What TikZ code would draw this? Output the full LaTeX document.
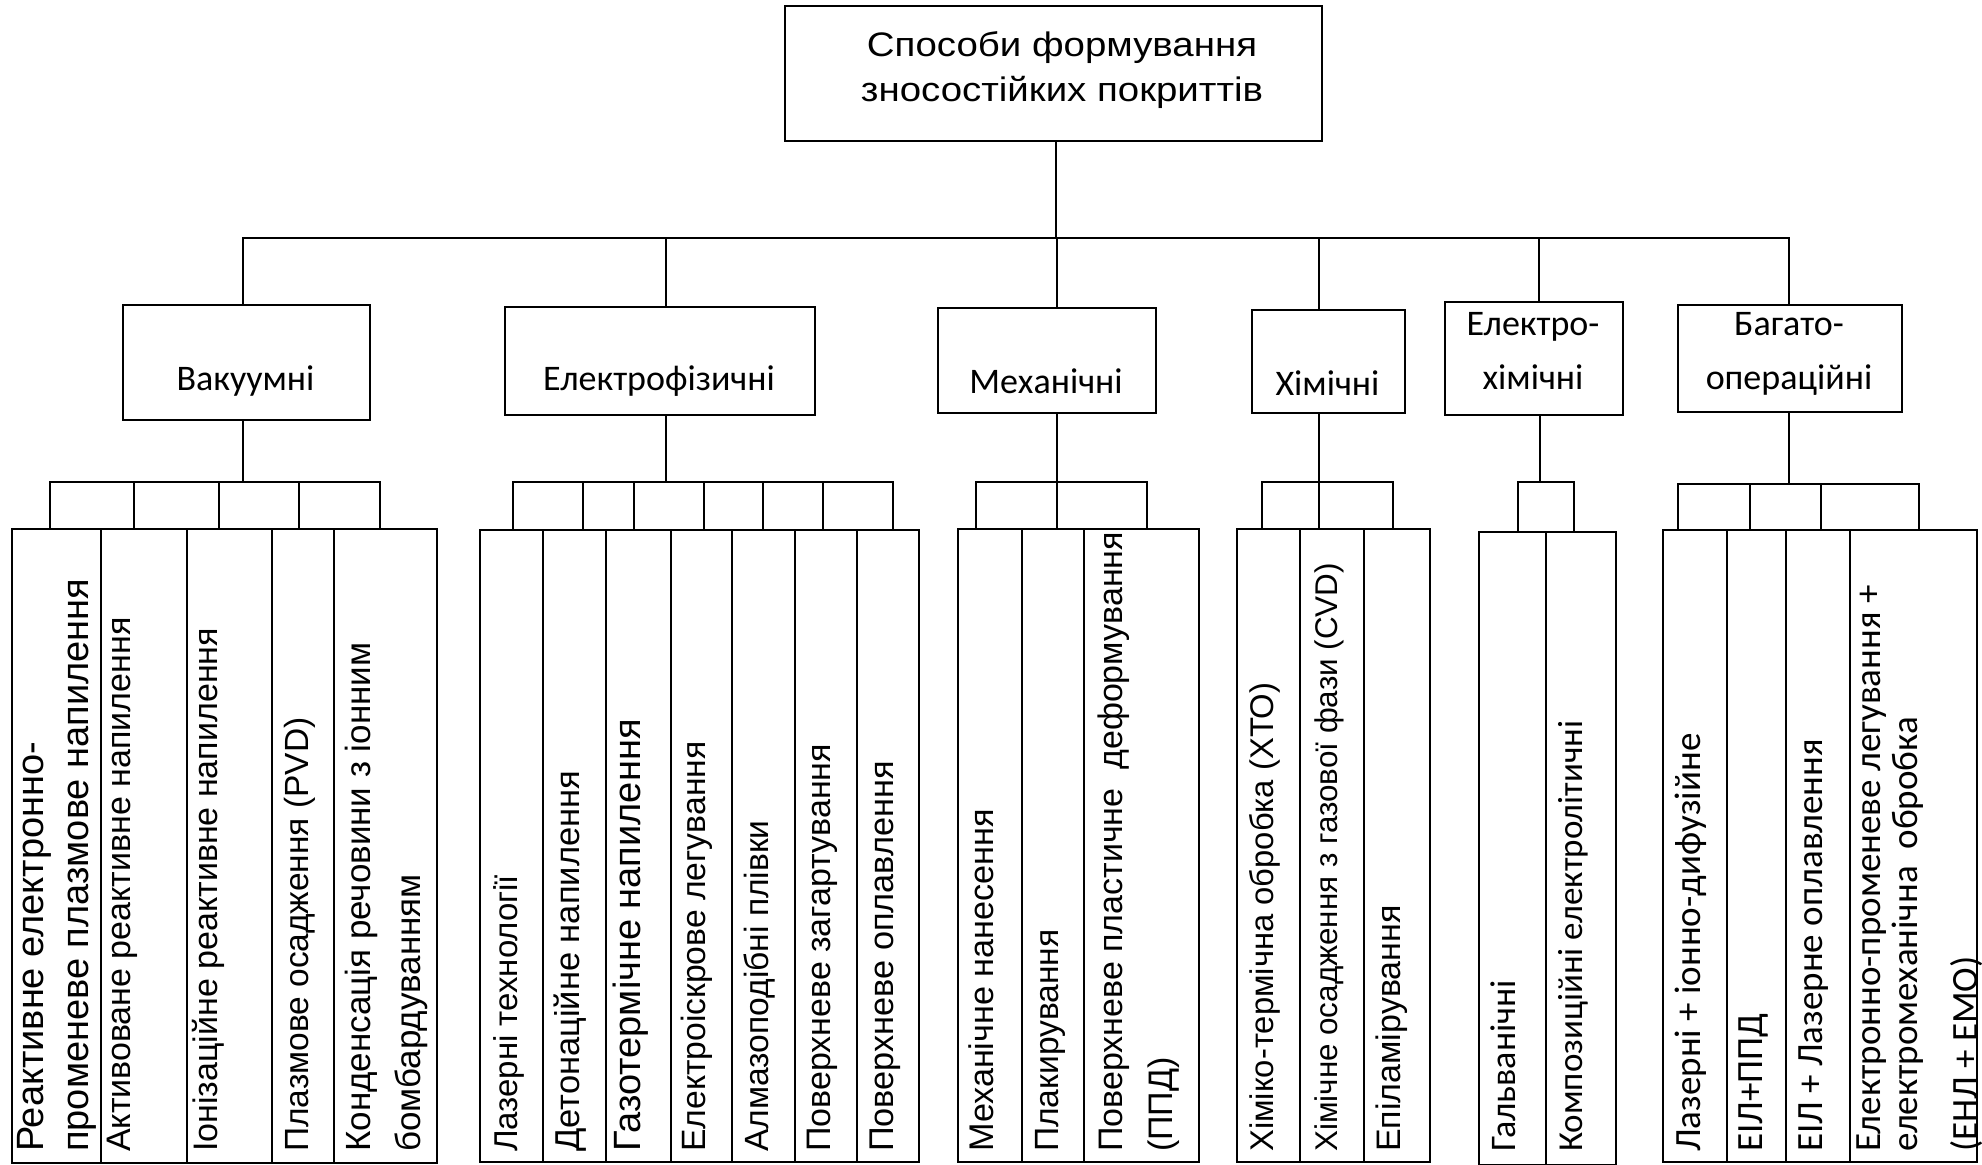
\documentclass[tikz,border=0pt]{standalone}
\usepackage{fontspec}
\setmainfont{Liberation Sans}
\newfontfamily\calfont{Carlito}
\newfontfamily\ttlfont[FakeStretch=1.13]{Liberation Sans}
\newcommand\fsz[2]{\fontsize{#1}{#2}\selectfont}
\newcommand\leaflines[1]{\begin{tabular}[t]{@{}l@{}}#1\end{tabular}}
\newcommand\ctrlines[1]{\begin{tabular}[t]{@{}c@{}}#1\end{tabular}}
\begin{document}
\begin{tikzpicture}[x=1pt,y=-1pt,
  box/.style={draw, line width=2pt, inner sep=0pt, anchor=north west},
  lt/.style={rotate=90, anchor=base west, inner sep=0pt},
  ct/.style={anchor=base, inner sep=0pt, font=\calfont\fsz{36}{54}},
  conn/.style={line width=2pt, line cap=rect}]
\fill[white] (0,0) rectangle (1982,1165);
\useasboundingbox (0,0) rectangle (1982,1165);

% root
\node[box, minimum width=537pt, minimum height=135pt] (root) at (784,5) {};
\node[anchor=base, inner sep=0pt, font=\ttlfont\fsz{34}{45}] (roott) at (1062,56)
  {\ctrlines{Способи формування\\зносостійких покриттів}};

% categories
\node[box, minimum width=247pt, minimum height=115pt] (vak) at (122,304) {};
\node[ct] (vakt) at (245.5,390) {Вакуумні};
\node[box, minimum width=310pt, minimum height=108pt] (elf) at (504,306) {};
\node[ct] (elft) at (659,390) {Електрофізичні};
\node[box, minimum width=218pt, minimum height=105pt] (mech) at (937,307) {};
\node[ct] (mecht) at (1046,393) {Механічні};
\node[box, minimum width=153pt, minimum height=103pt] (chem) at (1251,309) {};
\node[ct] (chemt) at (1327.5,395) {Хімічні};
\node[box, minimum width=178pt, minimum height=113pt] (ech) at (1444,301) {};
\node[ct] (echt) at (1533,335) {\ctrlines{Електро-\\хімічні}};
\node[box, minimum width=224pt, minimum height=107pt] (multi) at (1677,304) {};
\node[ct] (multit) at (1789,335) {\ctrlines{Багато-\\операційні}};

% leaves: vacuum
\node[box, minimum width=89pt, minimum height=634pt] (v1) at (11,528) {};
\node[box, minimum width=86pt, minimum height=634pt] (v2) at (100,528) {};
\node[box, minimum width=85pt, minimum height=634pt] (v3) at (186,528) {};
\node[box, minimum width=62pt, minimum height=634pt] (v4) at (271,528) {};
\node[box, minimum width=103pt, minimum height=634pt] (v5) at (333,528) {};
\node[lt, font=\fsz{38}{45}] (v1t) at (43,1152) {\leaflines{Реактивне електронно-\\променеве плазмове напилення}};
\node[lt, font=\fsz{34}{45}] (v2t) at (130,1152) {Активоване реактивне напилення};
\node[lt, font=\fsz{34}{45}] (v3t) at (217,1152) {Іонізаційне реактивне напилення};
\node[lt, font=\fsz{33.5}{45}] (v4t) at (308,1152) {Плазмове осадження (PVD)};
\node[lt, font=\fsz{35}{50}] (v5t) at (370,1152) {\leaflines{Конденсація речовини з іонним\\бомбардуванням}};

% leaves: electrophysical
\node[box, minimum width=63pt, minimum height=632pt] (e1) at (479,529) {};
\node[box, minimum width=63pt, minimum height=632pt] (e2) at (542,529) {};
\node[box, minimum width=65pt, minimum height=632pt] (e3) at (605,529) {};
\node[box, minimum width=61pt, minimum height=632pt] (e4) at (670,529) {};
\node[box, minimum width=63pt, minimum height=632pt] (e5) at (731,529) {};
\node[box, minimum width=62pt, minimum height=632pt] (e6) at (794,529) {};
\node[box, minimum width=62pt, minimum height=632pt] (e7) at (856,529) {};
\node[lt, font=\fsz{33}{45}] (e1t) at (517,1152) {Лазерні технології};
\node[lt, font=\fsz{34.5}{45}] (e2t) at (579,1152) {Детонаційне напилення};
\node[lt, font=\fsz{38}{45}] (e3t) at (640,1152) {Газотермічне напилення};
\node[lt, font=\fsz{33.7}{45}] (e4t) at (705,1152) {Електроіскрове легування};
\node[lt, font=\fsz{33.6}{45}] (e5t) at (768,1152) {Алмазоподібні плівки};
\node[lt, font=\fsz{34}{45}] (e6t) at (830,1152) {Поверхневе загартування};
\node[lt, font=\fsz{34.3}{45}] (e7t) at (893,1152) {Поверхневе оплавлення};

% leaves: mechanical
\node[box, minimum width=64pt, minimum height=633pt] (m1) at (957,528) {};
\node[box, minimum width=62pt, minimum height=633pt] (m2) at (1021,528) {};
\node[box, minimum width=115pt, minimum height=633pt] (m3) at (1083,528) {};
\node[lt, font=\fsz{34.2}{45}] (m1t) at (993,1152) {Механічне нанесення};
\node[lt, font=\fsz{33.6}{45}] (m2t) at (1058,1152) {Плакирування};
\node[lt, font=\fsz{34}{50}] (m3t) at (1122,1152) {\leaflines{Поверхневе пластичне\ \ деформування\\(ППД)}};

% leaves: chemical
\node[box, minimum width=63pt, minimum height=633pt] (c1) at (1236,528) {};
\node[box, minimum width=64pt, minimum height=633pt] (c2) at (1299,528) {};
\node[box, minimum width=66pt, minimum height=633pt] (c3) at (1363,528) {};
\node[lt, font=\fsz{32.8}{45}] (c1t) at (1273,1152) {Хіміко-термічна обробка (ХТО)};
\node[lt, font=\fsz{31.4}{45}] (c2t) at (1337,1152) {Хімічне осадження з газової фази (CVD)};
\node[lt, font=\fsz{34}{45}] (c3t) at (1400,1152) {Епіламірування};

% leaves: electrochemical
\node[box, minimum width=67pt, minimum height=633pt] (ec1) at (1478,531) {};
\node[box, minimum width=70pt, minimum height=633pt] (ec2) at (1545,531) {};
\node[lt, font=\calfont\fsz{36}{45}] (ec1t) at (1515,1152) {Гальванічні};
\node[lt, font=\calfont\fsz{35}{45}] (ec2t) at (1582,1152) {Композиційні електролітичні};

% leaves: multi-operation
\node[box, minimum width=64pt, minimum height=632pt] (b1) at (1662,529) {};
\node[box, minimum width=59pt, minimum height=632pt] (b2) at (1726,529) {};
\node[box, minimum width=64pt, minimum height=632pt] (b3) at (1785,529) {};
\node[box, minimum width=127pt, minimum height=632pt] (b4) at (1849,529) {};
\node[lt, font=\calfont\fsz{37}{45}] (b1t) at (1700,1152) {Лазерні + іонно-дифузійне};
\node[lt, font=\calfont\fsz{37}{45}] (b2t) at (1762,1152) {ЕІЛ+ППД};
\node[lt, font=\calfont\fsz{37}{45}] (b3t) at (1822,1152) {ЕІЛ + Лазерне оплавлення};
\node[lt, font=\calfont\fsz{37}{37}] (b4t) at (1880,1152) {\leaflines{Електронно-променеве легування +\\електромеханічна\ \ обробка\\[22pt](ЕНЛ + ЕМО)}};

% top-level connectors
\coordinate (hbus) at (0,238);
\draw[conn] ([xshift=2.5pt]root.south) -- ([xshift=2.5pt]root.south |- hbus);
\draw[conn] ([xshift=-3.5pt]vak.north |- hbus) -- ([xshift=-1pt]multi.north |- hbus);
\draw[conn] ([xshift=-3.5pt]vak.north |- hbus) -- ([xshift=-3.5pt]vak.north);
\draw[conn] ([xshift=6pt]elf.north |- hbus) -- ([xshift=6pt]elf.north);
\draw[conn] ([xshift=10pt]mech.north |- hbus) -- ([xshift=10pt]mech.north);
\draw[conn] ([xshift=-9.5pt]chem.north |- hbus) -- ([xshift=-9.5pt]chem.north);
\draw[conn] ([xshift=5pt]ech.north |- hbus) -- ([xshift=5pt]ech.north);
\draw[conn] ([xshift=-1pt]multi.north |- hbus) -- ([xshift=-1pt]multi.north);

% vacuum group
\coordinate (vbus) at (0,482);
\draw[conn] ([xshift=-3.5pt]vak.south) -- ([xshift=-3.5pt]vak.south |- vbus);
\draw[conn] ([xshift=-6.5pt]v1.north |- vbus) -- ([xshift=-5.5pt]v5.north |- vbus);
\draw[conn] ([xshift=-6.5pt]v1.north |- vbus) -- ([xshift=-6.5pt]v1.north);
\draw[conn] ([xshift=-10pt]v2.north |- vbus) -- ([xshift=-10pt]v2.north);
\draw[conn] ([xshift=-10.5pt]v3.north |- vbus) -- ([xshift=-10.5pt]v3.north);
\draw[conn] ([xshift=-4pt]v4.north |- vbus) -- ([xshift=-4pt]v4.north);
\draw[conn] ([xshift=-5.5pt]v5.north |- vbus) -- ([xshift=-5.5pt]v5.north);

% electrophysical group
\draw[conn] ([xshift=6pt]elf.south) -- ([xshift=6pt]elf.south |- vbus);
\draw[conn] ([xshift=1.5pt]e1.north |- vbus) -- ([xshift=5pt]e7.north |- vbus);
\draw[conn] ([xshift=1.5pt]e1.north |- vbus) -- ([xshift=1.5pt]e1.north);
\draw[conn] ([xshift=8.5pt]e2.north |- vbus) -- ([xshift=8.5pt]e2.north);
\draw[conn] ([xshift=-4.5pt]e3.north |- vbus) -- ([xshift=-4.5pt]e3.north);
\draw[conn] ([xshift=2.5pt]e4.north |- vbus) -- ([xshift=2.5pt]e4.north);
\draw[conn] ([xshift=-0.5pt]e5.north |- vbus) -- ([xshift=-0.5pt]e5.north);
\draw[conn] ([xshift=-3pt]e6.north |- vbus) -- ([xshift=-3pt]e6.north);
\draw[conn] ([xshift=5pt]e7.north |- vbus) -- ([xshift=5pt]e7.north);

% mechanical group
\draw[conn] ([xshift=10pt]mech.south) -- ([xshift=10pt]mech.south |- vbus);
\draw[conn] ([xshift=-14pt]m1.north |- vbus) -- ([xshift=5.5pt]m3.north |- vbus);
\draw[conn] ([xshift=-14pt]m1.north |- vbus) -- ([xshift=-14pt]m1.north);
\draw[conn] ([xshift=4pt]m2.north |- vbus) -- ([xshift=4pt]m2.north);
\draw[conn] ([xshift=5.5pt]m3.north |- vbus) -- ([xshift=5.5pt]m3.north);

% chemical group
\draw[conn] ([xshift=-9.5pt]chem.south) -- ([xshift=-9.5pt]chem.south |- vbus);
\draw[conn] ([xshift=-6.5pt]c1.north |- vbus) -- ([xshift=-4pt]c3.north |- vbus);
\draw[conn] ([xshift=-6.5pt]c1.north |- vbus) -- ([xshift=-6.5pt]c1.north);
\draw[conn] ([xshift=-13pt]c2.north |- vbus) -- ([xshift=-13pt]c2.north);
\draw[conn] ([xshift=-4pt]c3.north |- vbus) -- ([xshift=-4pt]c3.north);

% electrochemical group
\draw[conn] ([xshift=6pt]ech.south) -- ([xshift=6pt]ech.south |- vbus);
\draw[conn] ([xshift=5.5pt]ec1.north |- vbus) -- ([xshift=-7pt]ec2.north |- vbus);
\draw[conn] ([xshift=5.5pt]ec1.north |- vbus) -- ([xshift=5.5pt]ec1.north);
\draw[conn] ([xshift=-7pt]ec2.north |- vbus) -- ([xshift=-7pt]ec2.north);

% multi-operation group
\coordinate (bbus) at (0,484);
\draw[conn] ([xshift=-1pt]multi.south) -- ([xshift=-1pt]multi.south |- bbus);
\draw[conn] ([xshift=-17pt]b1.north |- bbus) -- ([xshift=5.5pt]b4.north |- bbus);
\draw[conn] ([xshift=-17pt]b1.north |- bbus) -- ([xshift=-17pt]b1.north);
\draw[conn] ([xshift=-6.5pt]b2.north |- bbus) -- ([xshift=-6.5pt]b2.north);
\draw[conn] ([xshift=3pt]b3.north |- bbus) -- ([xshift=3pt]b3.north);
\draw[conn] ([xshift=5.5pt]b4.north |- bbus) -- ([xshift=5.5pt]b4.north);
\end{tikzpicture}
\end{document}
